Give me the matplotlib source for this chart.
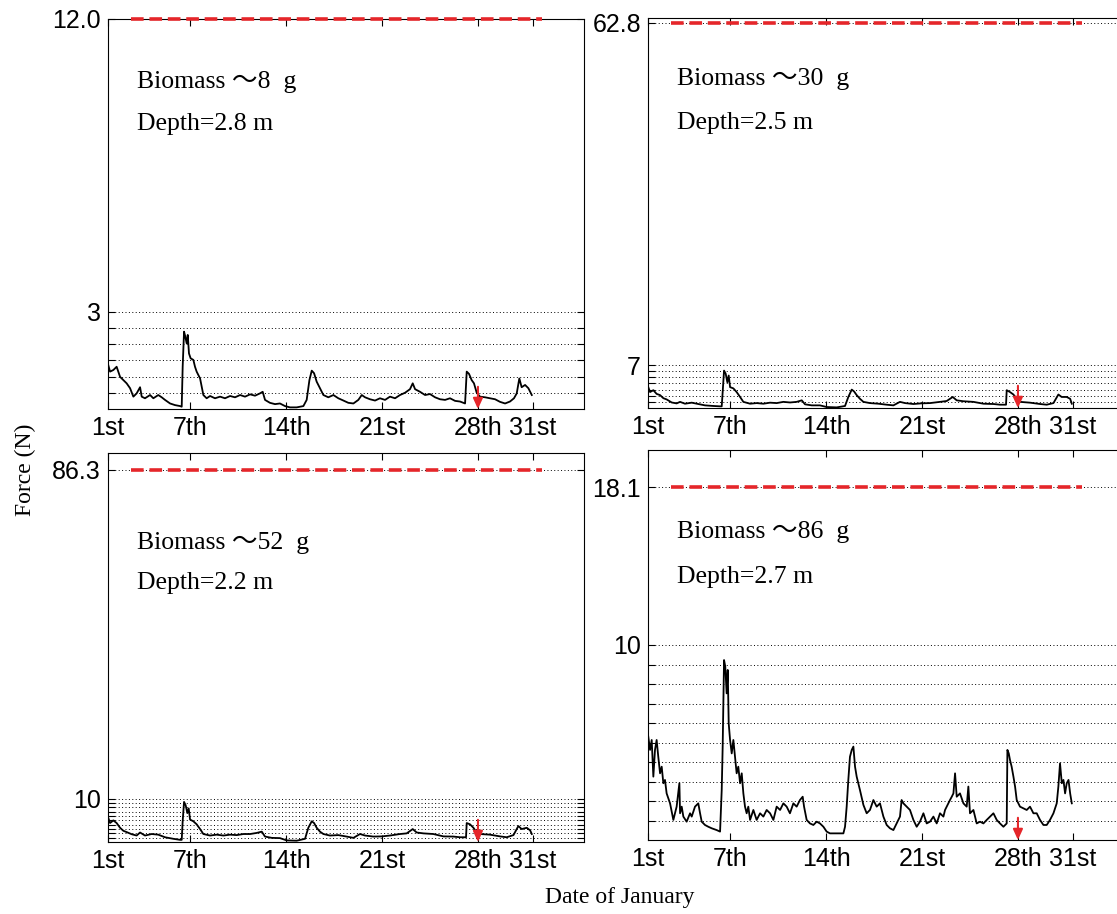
import matplotlib.pyplot as plt
import numpy as np

# date axis: tick positions (day number) and labels
tick_days = [1, 7, 14, 21, 28, 32]
tick_names = ["1st", "7th", "14th", "21st", "28th", "31st"]

# top left: biomass ~8 g
days_tl = [1.02, 1.15, 1.39, 1.63, 1.88, 2.12, 2.36, 2.61, 2.85, 3.09, 3.34, 3.46, 3.70, 4.07,
           4.31, 4.67, 4.92, 5.16, 5.53, 5.89, 6.26, 6.38, 6.45, 6.55, 6.64, 6.74, 6.82, 6.91,
           7.03, 7.23, 7.35, 7.47, 7.72, 7.96, 8.20, 8.45, 8.81, 9.18, 9.54, 9.91, 10.27, 10.64,
           11.00, 11.37, 11.73, 12.09, 12.29, 12.46, 12.82, 13.19, 13.55, 13.92, 14.28, 14.77,
           15.26, 15.50, 15.70, 15.87, 16.04, 16.23, 16.47, 16.72, 17.08, 17.45, 17.81, 18.18,
           18.54, 18.91, 19.27, 19.52, 19.76, 20.12, 20.49, 20.85, 21.22, 21.58, 21.95, 22.31,
           22.68, 23.04, 23.24, 23.41, 23.77, 24.14, 24.50, 24.87, 25.23, 25.60, 25.96, 26.33,
           26.69, 27.06, 27.18, 27.35, 27.54, 27.71, 27.91, 28.15, 28.52, 28.88, 29.25, 29.61,
           29.98, 30.34, 30.63, 30.83, 31.02, 31.19, 31.44, 31.68, 31.93]
force_tl = [1.35, 1.15, 1.20, 1.30, 0.99, 0.89, 0.79, 0.64, 0.38, 0.48, 0.67, 0.38, 0.33, 0.43,
            0.33, 0.43, 0.36, 0.28, 0.17, 0.12, 0.09, 0.07, 1.30, 2.38, 2.23, 2.02, 2.28, 1.71,
            1.56, 1.51, 1.30, 1.15, 0.94, 0.43, 0.33, 0.40, 0.33, 0.38, 0.33, 0.40, 0.36, 0.43,
            0.38, 0.45, 0.41, 0.48, 0.53, 0.28, 0.19, 0.15, 0.17, 0.09, 0.05, 0.05,
            0.09, 0.28, 0.89, 1.18, 1.10, 0.84, 0.64, 0.43, 0.36, 0.43, 0.33, 0.26,
            0.19, 0.17, 0.28, 0.43, 0.36, 0.30, 0.26, 0.33, 0.28, 0.38, 0.33, 0.43,
            0.50, 0.61, 0.79, 0.61, 0.53, 0.43, 0.46, 0.36, 0.30, 0.28, 0.33, 0.25,
            0.23, 0.17, 1.15, 1.08, 0.89, 0.79, 0.50, 0.38, 0.36, 0.33, 0.30, 0.22,
            0.17, 0.23, 0.33, 0.48, 0.94, 0.67, 0.74, 0.64, 0.43]

# top right (~30 g) and bottom left (~52 g) share the same sampling days
days_tr = [1.02, 1.15, 1.39, 1.63, 1.88, 2.12, 2.36, 2.73, 3.09, 3.34, 3.70, 4.19, 4.67, 5.16,
           5.77, 6.26, 6.38, 6.45, 6.55, 6.67, 6.79, 6.89, 6.99, 7.23, 7.47, 7.72, 7.96, 8.45,
           8.93, 9.42, 9.91, 10.39, 10.88, 11.37, 11.85, 12.22, 12.46, 12.95, 13.55, 14.04,
           14.77, 15.38, 15.62, 15.87, 16.04, 16.23, 16.47, 16.72, 17.20, 17.81, 18.42, 18.91,
           19.39, 19.76, 20.37, 20.98, 21.58, 22.31, 22.80, 23.24, 23.53, 24.02, 24.75, 25.48,
           26.21, 26.69, 27.13, 27.18, 27.42, 27.67, 27.91, 28.15, 28.88, 29.61, 30.10, 30.59,
           30.95, 31.19, 31.56, 31.81, 31.93]
force_tr = [3.4, 2.6, 2.9, 2.3, 2.1, 1.6, 1.4, 0.9, 0.75, 1.0, 0.7, 0.87, 0.65, 0.43,
            0.33, 0.27, 0.27, 2.6, 6.1, 5.6, 4.2, 5.3, 3.4, 3.2, 2.6, 1.8, 1.0, 0.7,
            0.8, 0.7, 0.87, 0.8, 1.0, 0.9, 1.0, 1.25, 0.6, 0.43, 0.43, 0.16,
            0.1, 0.33, 1.8, 3.0, 2.7, 2.1, 1.5, 1.0, 0.8, 0.7, 0.54, 0.43,
            1.0, 0.8, 0.65, 0.76, 0.8, 1.0, 1.14, 1.8, 1.25, 1.1, 1.0, 0.7,
            0.65, 0.54, 0.54, 2.9, 2.6, 2.2, 1.5, 1.0, 0.87, 0.65, 0.54, 0.8,
            2.2, 1.8, 1.8, 1.5, 0.7]
days_bl = days_tr
force_bl = [5.6, 4.4, 5.0, 4.4, 3.3, 2.6, 2.3, 1.8, 1.5, 2.2, 1.5, 1.85, 1.7, 1.1,
            0.74, 0.5, 0.5, 4.8, 9.3, 8.5, 6.7, 7.8, 5.2, 4.8, 4.1, 3.0, 1.85, 1.5,
            1.7, 1.5, 1.7, 1.6, 1.85, 1.85, 2.1, 2.4, 1.26, 0.96, 0.9, 0.37,
            0.3, 0.74, 3.3, 4.8, 4.4, 3.3, 2.4, 1.85, 1.5, 1.6, 1.26, 0.96,
            1.85, 1.5, 1.26, 1.3, 1.5, 1.85, 2.0, 3.0, 2.2, 2.0, 1.85, 1.3,
            1.26, 1.1, 1.1, 4.4, 4.1, 3.3, 2.2, 1.85, 1.7, 1.3, 1.1, 1.6,
            3.7, 3.0, 3.3, 2.7, 1.85]

# bottom right: biomass ~86 g
days_br = [1.02, 1.15, 1.27, 1.39, 1.51, 1.63, 1.75, 1.88, 2.00, 2.12, 2.24, 2.36, 2.61, 2.85,
           2.97, 3.09, 3.29, 3.34, 3.46, 3.58, 3.82, 4.07, 4.19, 4.43, 4.67, 4.80, 4.92, 5.16,
           5.40, 5.65, 6.01, 6.26, 6.38, 6.45, 6.55, 6.64, 6.74, 6.82, 6.89, 6.99, 7.11, 7.23,
           7.35, 7.47, 7.59, 7.72, 7.84, 7.96, 8.08, 8.20, 8.32, 8.45, 8.69, 8.93, 9.18, 9.42,
           9.66, 9.91, 10.15, 10.39, 10.64, 10.88, 11.12, 11.36, 11.61, 11.85, 12.09, 12.29,
           12.39, 12.58, 12.82, 13.07, 13.31, 13.55, 13.80, 14.04, 14.28, 14.77, 15.26, 15.38,
           15.50, 15.62, 15.74, 15.87, 15.99, 16.11, 16.23, 16.47, 16.72, 16.96, 17.20, 17.45,
           17.69, 17.93, 18.18, 18.42, 18.66, 18.91, 19.15, 19.39, 19.51, 19.64, 19.88, 20.12,
           20.37, 20.61, 20.85, 21.10, 21.34, 21.58, 21.83, 22.07, 22.31, 22.56, 22.68, 22.80,
           23.04, 23.17, 23.29, 23.41, 23.53, 23.77, 24.02, 24.26, 24.38, 24.50, 24.75, 24.99,
           25.23, 25.48, 25.72, 25.96, 26.21, 26.45, 26.69, 26.94, 27.18, 27.23, 27.33, 27.42,
           27.54, 27.67, 27.79, 27.91, 28.15, 28.40, 28.64, 28.88, 29.13, 29.37, 29.61, 29.86,
           30.10, 30.34, 30.59, 30.83, 30.95, 31.07, 31.20, 31.32, 31.44, 31.56, 31.69, 31.81,
           31.93]
force_br = [5.30, 4.62, 5.13, 3.25, 4.62, 5.13, 4.27, 3.42, 3.76, 2.91, 3.08, 2.39, 1.88, 1.03,
            1.37, 1.71, 2.91, 1.37, 1.71, 1.20, 0.94, 1.37, 1.20, 1.71, 1.88, 1.37, 0.94, 0.77,
            0.68, 0.60, 0.51, 0.43, 2.56, 4.79, 9.23, 8.89, 7.52, 8.72, 5.98, 5.13, 4.44, 5.13,
            4.27, 3.42, 3.76, 2.91, 3.42, 2.39, 1.71, 1.37, 1.71, 1.03, 1.54, 1.03, 1.37, 1.20,
            1.54, 1.37, 1.03, 1.71, 1.54, 1.88, 1.71, 1.37, 1.88, 1.71, 2.05, 2.22,
            1.71, 1.03, 0.85, 0.77, 0.94, 0.85, 0.68, 0.43, 0.34, 0.34, 0.34, 0.68,
            1.71, 3.08, 4.27, 4.62, 4.79, 3.76, 3.25, 2.56, 1.80, 1.37, 1.54, 2.05,
            1.71, 1.88, 1.20, 0.77, 0.60, 0.51, 0.85, 1.20, 2.05, 1.88, 1.71, 1.54,
            1.03, 0.68, 0.94, 1.37, 0.85, 0.94, 1.20, 0.85, 1.37, 1.20, 1.54, 1.71,
            2.05, 2.22, 2.39, 3.42, 2.22, 2.39, 1.88, 1.71, 2.74, 1.37, 1.54, 0.85,
            0.94, 0.85, 1.03, 1.20, 1.37, 1.03, 0.85, 0.68, 0.85, 4.62, 4.44, 4.10,
            3.76, 3.25, 2.74, 2.05, 1.71, 1.62, 1.54, 1.71, 1.37, 1.37, 1.03, 0.77,
            0.77, 1.03, 1.37, 1.88, 2.74, 3.93, 2.91, 3.08, 2.39, 2.91, 3.08, 2.39,
            1.88]

thresholds = [12.0, 62.8, 86.3, 18.1]
grid_tl = [0.5, 1, 1.5, 2, 2.5, 3]
grid_tr = [1, 2, 3, 4, 5, 6, 7]
grid_bl = [1, 2, 3, 4, 5, 6, 7, 8, 9, 10]
grid_br = [1, 2, 3, 4, 5, 6, 7, 8, 9, 10]
labelled = [3, 7, 10, 10]
biomass = ["8", "30", "52", "86"]
depth = ["2.8", "2.5", "2.2", "2.7"]

serif = ["Liberation Serif", "Noto Sans CJK JP"]
plt.rcParams["font.family"] = "Liberation Sans"
plt.rcParams["font.size"] = 18

fig = plt.figure(figsize=(11.17, 9.14), dpi=100)
W, H = 1117, 914
# panel boxes in pixels: left, top, right, bottom
boxes = [(108, 19, 584, 409), (648, 18, 1124, 408), (108, 453, 584, 842), (648, 450, 1124, 840)]
ytops = [12.0, 63.6, 90.2, 20.0]
txt_y = [(0.838, 0.731), (0.844, 0.731), (0.769, 0.666), (0.790, 0.674)]
series = [(days_tl, force_tl, grid_tl), (days_tr, force_tr, grid_tr),
          (days_bl, force_bl, grid_bl), (days_br, force_br, grid_br)]

for i, (d, f, g) in enumerate(series):
    l, t, r, b = boxes[i]
    ax = fig.add_axes([l / W, 1 - b / H, (r - l) / W, (b - t) / H])
    ax.plot(d, f, color="black", lw=1.3)
    ax.set_xlim(1, 35.74)
    ax.set_ylim(0, ytops[i])
    yt = g + [thresholds[i]]
    ax.set_yticks(yt)
    ax.set_yticklabels([str(v) if v == labelled[i] else "" for v in g] + ["%.1f" % thresholds[i]])
    ax.set_xticks(tick_days)
    ax.set_xticklabels(tick_names)
    ax.tick_params(direction="in", top=True, right=True, length=5, width=0.8, pad=5)
    ax.yaxis.grid(True, linestyle=(0, (1, 2.5)), color="black", lw=0.7)
    ax.axhline(thresholds[i], xmin=(2.7 - 1) / 34.74, xmax=(32.7 - 1) / 34.74,
               color="#e5262a", lw=2.6, dashes=(3.5, 1.6), clip_on=False, zorder=5)
    ax.annotate("", xy=(28, 0), xytext=(0, 16), textcoords="offset points",
                xycoords="data", annotation_clip=False,
                arrowprops=dict(arrowstyle="-|>,head_length=0.35,head_width=0.16",
                                color="#e5262a", lw=1.5, shrinkA=0, shrinkB=0))
    ax.text(0.061, txt_y[i][0], "Biomass \uff5e" + biomass[i] + "  g", transform=ax.transAxes,
            family=serif, fontsize=18.5, va="center")
    ax.text(0.061, txt_y[i][1], "Depth=" + depth[i] + " m", transform=ax.transAxes,
            family=serif, fontsize=18.5, va="center")
    for s in ax.spines.values():
        s.set_linewidth(0.8)

fig.text(25 / W, 1 - 470 / H, "Force (N)", rotation=90, family=serif, fontsize=17,
         ha="center", va="center")
fig.text(620 / W, 1 - 897 / H, "Date of January", family=serif, fontsize=17,
         ha="center", va="center")

fig.savefig("out.png", dpi=100)
